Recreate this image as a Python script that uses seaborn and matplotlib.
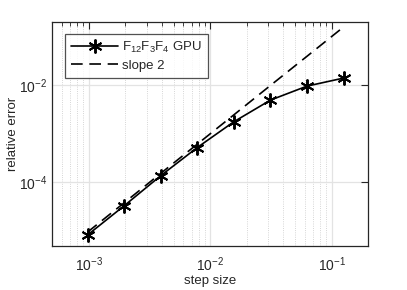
import seaborn as sns
import matplotlib
matplotlib.use("Agg")
import matplotlib.pyplot as plt
from matplotlib.ticker import LogLocator, NullLocator

# data
step_size = [2**-10, 2**-9, 2**-8, 2**-7, 2**-6, 2**-5, 2**-4, 2**-3]
rel_error = [8.3e-6, 3.3e-5, 1.37e-4, 5.2e-4, 1.76e-3, 4.9e-3, 9.5e-3, 1.39e-2]
slope2 = [9.5e-6, 3.8e-5, 1.53e-4, 6.1e-4, 2.44e-3, 9.8e-3, 3.9e-2, 1.56e-1]

sns.set_style("white")
plt.rcParams['font.family'] = ['Liberation Sans', 'DejaVu Sans']
plt.rcParams['mathtext.fontset'] = 'custom'
plt.rcParams['mathtext.rm'] = 'Liberation Sans'

fig = plt.figure(figsize=(4.07, 2.90), dpi=100)
ax = fig.add_axes([0.1285, 0.153, 0.7765, 0.772])

sns.lineplot(x=step_size, y=rel_error, ax=ax, color='black', lw=1.2,
             marker=(6, 2, 0), markersize=10, markeredgewidth=1.4,
             markeredgecolor='black', label=r'F$_{12}$F$_3$F$_4$ GPU')
sns.lineplot(x=step_size, y=slope2, ax=ax, color='black', lw=1.2,
             linestyle=(0, (7, 4)), label='slope 2')

ax.set_xscale('log')
ax.set_yscale('log')
ax.set_xlim(5e-4, 0.2)
ax.set_ylim(5e-6, 0.2)
ax.set_yticks([1e-4, 1e-2])
ax.yaxis.set_minor_locator(NullLocator())
ax.xaxis.set_major_locator(LogLocator(base=10, numticks=10))
ax.xaxis.set_minor_locator(LogLocator(base=10, subs=range(2, 10), numticks=20))

ax.grid(True, which='major', color='#e3e3e3', lw=0.9, linestyle='-')
ax.grid(True, which='minor', axis='x', color='#c8c8c8', lw=0.6, linestyle=':')
ax.set_axisbelow(True)

ax.tick_params(which='both', direction='in', top=True, right=True,
               colors='#262626', labelcolor='#262626', labelsize=10)
ax.tick_params(which='major', length=5, width=0.8)
ax.tick_params(which='minor', length=3, width=0.6)
ax.tick_params(axis='x', which='major', pad=7)
for s in ax.spines.values():
    s.set_color('#262626')
    s.set_linewidth(0.9)

ax.set_xlabel('step size', fontsize=9.5, color='#262626', labelpad=1)
ax.set_ylabel('relative error', fontsize=9.5, color='#262626', labelpad=0)

leg = ax.legend(loc='upper left', bbox_to_anchor=(0.04, 0.945), fontsize=9.5,
                frameon=True, fancybox=False, edgecolor='#262626',
                handlelength=3.6, handletextpad=0.3, borderpad=0.45,
                labelspacing=0.35, borderaxespad=0)
leg.get_frame().set_linewidth(0.9)

fig.savefig('out.png', dpi=100)
